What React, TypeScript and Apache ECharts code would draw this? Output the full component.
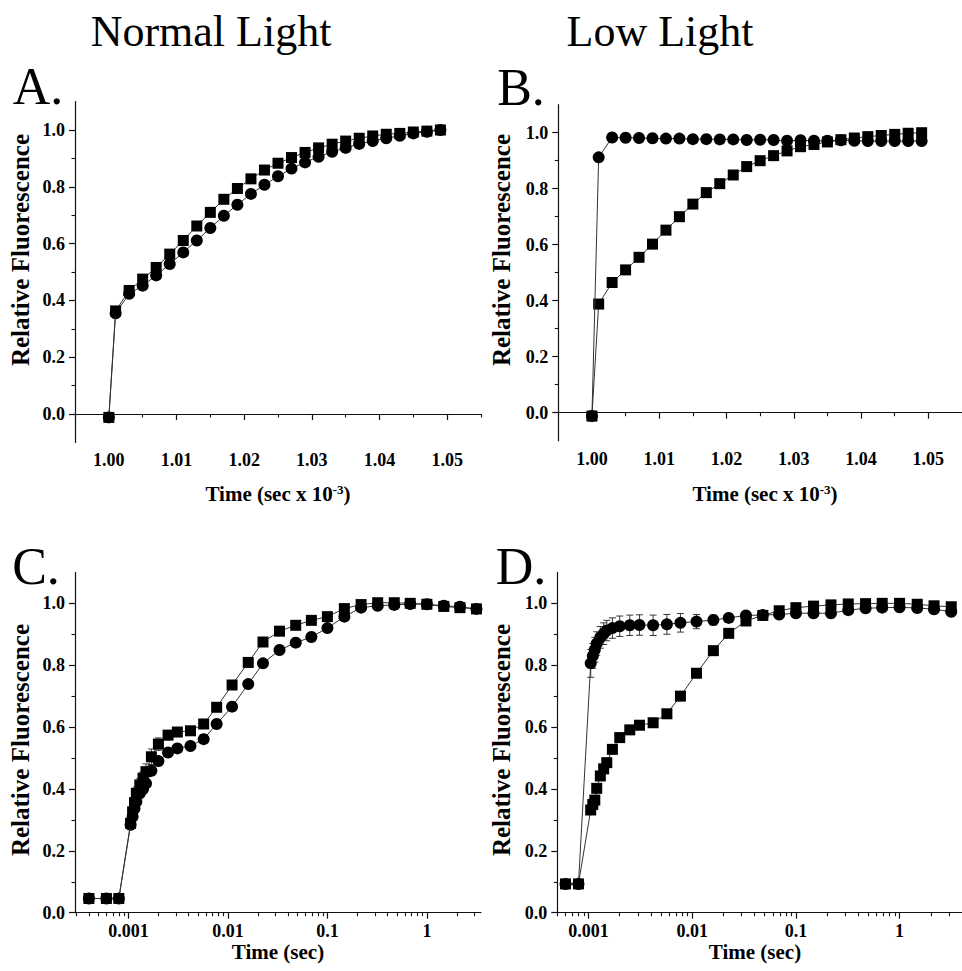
import React, { useEffect, useRef } from "react";
import * as echarts from "echarts";

// ---------- data ----------
const timeMs = [1.000, 1.001, 1.003, 1.005, 1.007, 1.009, 1.011, 1.013, 1.015, 1.017, 1.019, 1.021, 1.023, 1.025, 1.027, 1.029, 1.031, 1.033, 1.035, 1.037, 1.039, 1.041, 1.043, 1.045, 1.047, 1.049];
const aSquares = [-0.012, 0.363, 0.435, 0.475, 0.516, 0.563, 0.611, 0.662, 0.710, 0.756, 0.794, 0.828, 0.859, 0.883, 0.903, 0.921, 0.937, 0.950, 0.961, 0.971, 0.979, 0.985, 0.988, 0.993, 0.996, 1.000];
const aCircles = [-0.012, 0.355, 0.423, 0.452, 0.488, 0.528, 0.569, 0.611, 0.655, 0.698, 0.737, 0.775, 0.807, 0.837, 0.864, 0.886, 0.906, 0.923, 0.937, 0.951, 0.961, 0.971, 0.980, 0.988, 0.994, 1.000];
const aSquareErr = [0, 0.004, 0.008, 0.008, 0.01, 0.01, 0.012, 0.012, 0.012, 0.012, 0.012, 0.01, 0.01, 0.008, 0.008, 0.006, 0.006, 0.005, 0.005, 0.004, 0.004, 0.003, 0.003, 0.002, 0.002, 0.001];
const bCircles = [-0.012, 0.912, 0.983, 0.982, 0.981, 0.980, 0.979, 0.979, 0.977, 0.977, 0.976, 0.976, 0.974, 0.975, 0.974, 0.971, 0.973, 0.971, 0.971, 0.973, 0.971, 0.970, 0.970, 0.970, 0.970, 0.970];
const bSquares = [-0.012, 0.388, 0.465, 0.510, 0.555, 0.602, 0.652, 0.700, 0.745, 0.786, 0.818, 0.849, 0.879, 0.900, 0.918, 0.935, 0.950, 0.958, 0.967, 0.975, 0.981, 0.986, 0.990, 0.994, 0.998, 1.000];

const timeSecC = [0.0004, 0.0006, 0.0008, 0.00105, 0.0011, 0.00115, 0.0012, 0.0013, 0.0014, 0.0015, 0.0017, 0.002, 0.0025, 0.0031, 0.0042, 0.0057, 0.0077, 0.011, 0.016, 0.0225, 0.033, 0.048, 0.069, 0.1, 0.148, 0.218, 0.32, 0.47, 0.68, 1.0, 1.48, 2.15, 3.15];
const cSquares = [0.046, 0.046, 0.046, 0.289, 0.326, 0.356, 0.386, 0.413, 0.435, 0.456, 0.504, 0.545, 0.574, 0.584, 0.588, 0.610, 0.664, 0.736, 0.809, 0.875, 0.910, 0.929, 0.945, 0.957, 0.983, 0.996, 1.002, 1.002, 1.000, 0.997, 0.990, 0.986, 0.982];
const cSquareErr = [0, 0, 0, 0.015, 0.015, 0.015, 0.02, 0.02, 0.02, 0.025, 0.025, 0.02, 0.015, 0.01, 0.01, 0.01, 0.01, 0.01, 0.01, 0.008, 0.008, 0.008, 0.008, 0.008, 0.008, 0.005, 0.005, 0.005, 0.005, 0.005, 0.005, 0.005, 0.005];
const cCircles = [0.046, 0.046, 0.046, 0.284, 0.310, 0.337, 0.359, 0.386, 0.400, 0.418, 0.459, 0.490, 0.518, 0.531, 0.539, 0.561, 0.610, 0.666, 0.739, 0.806, 0.849, 0.873, 0.891, 0.920, 0.957, 0.986, 0.992, 0.995, 0.998, 0.997, 0.992, 0.989, 0.982];

const timeSecD = [0.0006, 0.0008, 0.00105, 0.0011, 0.00115, 0.0012, 0.0013, 0.0014, 0.0015, 0.0017, 0.002, 0.0025, 0.0031, 0.0042, 0.0057, 0.0077, 0.011, 0.016, 0.0225, 0.033, 0.048, 0.069, 0.1, 0.148, 0.218, 0.32, 0.47, 0.68, 1.0, 1.48, 2.15, 3.15];
const dSquares = [0.093, 0.093, 0.332, 0.350, 0.364, 0.402, 0.442, 0.465, 0.485, 0.528, 0.566, 0.591, 0.606, 0.614, 0.643, 0.700, 0.774, 0.847, 0.903, 0.943, 0.961, 0.976, 0.986, 0.991, 0.995, 0.998, 0.999, 1.000, 1.000, 0.997, 0.992, 0.989];
const dCircles = [0.093, 0.093, 0.806, 0.830, 0.850, 0.870, 0.890, 0.902, 0.912, 0.920, 0.926, 0.929, 0.930, 0.929, 0.932, 0.937, 0.941, 0.946, 0.953, 0.961, 0.962, 0.964, 0.968, 0.968, 0.968, 0.978, 0.984, 0.986, 0.987, 0.985, 0.981, 0.973];
const dCircleErr = [0, 0, 0.045, 0.04, 0.04, 0.038, 0.035, 0.035, 0.033, 0.033, 0.033, 0.033, 0.033, 0.033, 0.032, 0.030, 0.023, 0.016, 0.011, 0.008, 0.008, 0.008, 0.008, 0.008, 0.008, 0.006, 0.006, 0.006, 0.006, 0.006, 0.006, 0.006];

const yLabelTicks = [0, 0.2, 0.4, 0.6, 0.8, 1.0];
const yMinorTicks = [0.1, 0.3, 0.5, 0.7, 0.9];
const linLabelTicks = [1.0, 1.01, 1.02, 1.03, 1.04, 1.05];
const linMinorTicks = [0.995, 1.005, 1.015, 1.025, 1.035, 1.045, 1.055];
const logLabelTicks = [0.001, 0.01, 0.1, 1];
const logMinorTicks = [0.0003, 0.0004, 0.0005, 0.0006, 0.0007, 0.0008, 0.0009, 0.002, 0.003, 0.004, 0.005, 0.006, 0.007, 0.008, 0.009, 0.02, 0.03, 0.04, 0.05, 0.06, 0.07, 0.08, 0.09, 0.2, 0.3, 0.4, 0.5, 0.6, 0.7, 0.8, 0.9, 2, 3];

const titles = ["Normal Light", "Low Light"];
const panelLetters = ["A.", "B.", "C.", "D."];
const yTitle = "Relative Fluorescence";

// ---------- style ----------
const FONT = "'Liberation Serif', 'Times New Roman', serif";

const zip = (xs: number[], ys: number[]) => xs.map((x, i) => [x, ys[i]]);
const zip3 = (xs: number[], ys: number[], es: number[]) => xs.map((x, i) => [x, ys[i], es[i]]);

export default function App() {
  const ref = useRef<HTMLDivElement>(null);

  useEffect(() => {
    if (!ref.current) return;
    const chart = echarts.init(ref.current, null, { renderer: "svg" });

    const grids = [
      { left: 75, top: 101.6, width: 406, height: 340.8 },
      { left: 558.3, top: 104.7, width: 412, height: 336 },
      { left: 75, top: 572.4, width: 406, height: 340.3 },
      { left: 557.3, top: 572.4, width: 412, height: 340.3 },
    ];

    const axisLine = { show: true, lineStyle: { color: "#111", width: 1.2 } };
    const tickLabel = { fontFamily: FONT, fontWeight: "bold" as const, fontSize: 18, color: "#000" };

    const xRanges = [
      { type: "value", min: 0.995, max: 1.055 },
      { type: "value", min: 0.995, max: 1.055 },
      { type: "log", min: 0.00029, max: 3.5 },
      { type: "log", min: 0.0005, max: 4 },
    ];
    const yRanges = [
      { min: -0.1, max: 1.1 },
      { min: -0.1, max: 1.1 },
      { min: 0, max: 1.1 },
      { min: 0, max: 1.1 },
    ];

    const xAxis: any[] = [];
    const yAxis: any[] = [];
    grids.forEach((g, i) => {
      const isLog = xRanges[i].type === "log";
      const labels = isLog ? logLabelTicks : linLabelTicks;
      const minors = isLog ? logMinorTicks : linMinorTicks;
      xAxis.push({
        gridIndex: i,
        type: xRanges[i].type,
        min: xRanges[i].min,
        max: xRanges[i].max,
        position: "bottom",
        axisLine,
        splitLine: { show: false },
        axisTick: { show: true, customValues: labels, length: 6, lineStyle: { color: "#111", width: 1.2 } },
        axisLabel: {
          ...tickLabel,
          margin: 9,
          customValues: labels,
          formatter: (v: number) => (isLog ? String(v) : Number(v).toFixed(2)),
        },
      });
      xAxis.push({
        gridIndex: i,
        type: xRanges[i].type,
        min: xRanges[i].min,
        max: xRanges[i].max,
        position: "bottom",
        offset: 0,
        axisLine: { show: false },
        splitLine: { show: false },
        axisTick: { show: true, customValues: minors, length: 3.5, lineStyle: { color: "#111", width: 1.1 } },
        axisLabel: { show: false },
      });
      yAxis.push({
        gridIndex: i,
        type: "value",
        min: yRanges[i].min,
        max: yRanges[i].max,
        position: "left",
        axisLine,
        splitLine: { show: false },
        axisTick: { show: true, customValues: yLabelTicks, length: 6, lineStyle: { color: "#111", width: 1.2 } },
        axisLabel: {
          ...tickLabel,
          margin: 10,
          customValues: yLabelTicks,
          formatter: (v: number) => Number(v).toFixed(1),
        },
      });
      yAxis.push({
        gridIndex: i,
        type: "value",
        min: yRanges[i].min,
        max: yRanges[i].max,
        position: "left",
        offset: 0,
        axisLine: { show: false },
        splitLine: { show: false },
        axisTick: { show: true, customValues: yMinorTicks, length: 3.5, lineStyle: { color: "#111", width: 1.1 } },
        axisLabel: { show: false },
      });
    });

    const lineSeries = (gi: number, data: number[][], symbol: string, size: number, z: number) => ({
      type: "line",
      xAxisIndex: gi * 2,
      yAxisIndex: gi * 2,
      data,
      symbol,
      symbolSize: size,
      showSymbol: true,
      itemStyle: { color: "#000" },
      lineStyle: { color: "#333", width: 1 },
      z,
      silent: true,
    });

    const errSeries = (gi: number, data: number[][]) => ({
      type: "custom",
      xAxisIndex: gi * 2,
      yAxisIndex: gi * 2,
      data,
      encode: { x: 0, y: 1 },
      z: 1,
      silent: true,
      renderItem: (params: any, api: any) => {
        const x = api.value(0);
        const y = api.value(1);
        const e = api.value(2);
        if (!e) return null;
        const top = api.coord([x, y + e]);
        const bot = api.coord([x, y - e]);
        const hw = 3.5;
        const st = { stroke: "#222", lineWidth: 0.9 };
        return {
          type: "group",
          children: [
            { type: "line", shape: { x1: top[0], y1: top[1], x2: bot[0], y2: bot[1] }, style: st },
            { type: "line", shape: { x1: top[0] - hw, y1: top[1], x2: top[0] + hw, y2: top[1] }, style: st },
            { type: "line", shape: { x1: bot[0] - hw, y1: bot[1], x2: bot[0] + hw, y2: bot[1] }, style: st },
          ],
        };
      },
    });

    const series: any[] = [
      errSeries(0, zip3(timeMs, aSquares, aSquareErr)),
      lineSeries(0, zip(timeMs, aCircles), "circle", 12, 2),
      lineSeries(0, zip(timeMs, aSquares), "rect", 11, 3),
      lineSeries(1, zip(timeMs, bSquares), "rect", 11, 2),
      lineSeries(1, zip(timeMs, bCircles), "circle", 12, 3),
      errSeries(2, zip3(timeSecC, cSquares, cSquareErr)),
      lineSeries(2, zip(timeSecC, cCircles), "circle", 12, 2),
      lineSeries(2, zip(timeSecC, cSquares), "rect", 11, 3),
      errSeries(3, zip3(timeSecD, dCircles, dCircleErr)),
      lineSeries(3, zip(timeSecD, dSquares), "rect", 11, 2),
      lineSeries(3, zip(timeSecD, dCircles), "circle", 12, 3),
    ];

    const txt = (text: string, x: number, y: number, size: number, bold: boolean, extra: any = {}) => ({
      type: "text",
      x,
      y,
      silent: true,
      ...extra,
      style: {
        text,
        fontFamily: FONT,
        fontSize: size,
        fontWeight: bold ? "bold" : "normal",
        fill: "#000",
        align: "center",
        verticalAlign: "middle",
      },
    });

    const timeLabel = (x: number, y: number) => ({
      type: "text",
      x,
      y,
      silent: true,
      style: {
        text: "Time (sec x 10{sup|-3})",
        fontFamily: FONT,
        fontSize: 21,
        fontWeight: "bold",
        fill: "#000",
        align: "center",
        verticalAlign: "middle",
        rich: {
          sup: { fontFamily: FONT, fontSize: 13, fontWeight: "bold", fill: "#000", verticalAlign: "top", padding: [0, 0, 10, 0] },
        },
      },
    });

    const graphic: any[] = [
      txt(titles[0], 211, 31, 44, false),
      txt(titles[1], 660, 31, 44, false),
      txt(panelLetters[0], 38, 86, 52, false),
      txt(panelLetters[1], 521, 87, 52, false),
      txt(panelLetters[2], 36, 566, 52, false),
      txt(panelLetters[3], 521, 566, 52, false),
      txt(yTitle, 20, 250, 25, true, { rotation: Math.PI / 2 }),
      txt(yTitle, 501, 250, 25, true, { rotation: Math.PI / 2 }),
      txt(yTitle, 20, 740, 25, true, { rotation: Math.PI / 2 }),
      txt(yTitle, 501, 740, 25, true, { rotation: Math.PI / 2 }),
      timeLabel(278, 494),
      timeLabel(765, 494),
      txt("Time (sec)", 278, 952, 21, true),
      txt("Time (sec)", 755, 952, 21, true),
    ];

    chart.setOption({
      animation: false,
      backgroundColor: "#fff",
      grid: grids.map((g) => ({ ...g, containLabel: false })),
      xAxis,
      yAxis,
      series,
      graphic,
    });

    return () => chart.dispose();
  }, []);

  return (
    <div
      ref={ref}
      style={{ position: "fixed", left: 0, top: 0, width: 962, height: 971, background: "#fff" }}
    />
  );
}
